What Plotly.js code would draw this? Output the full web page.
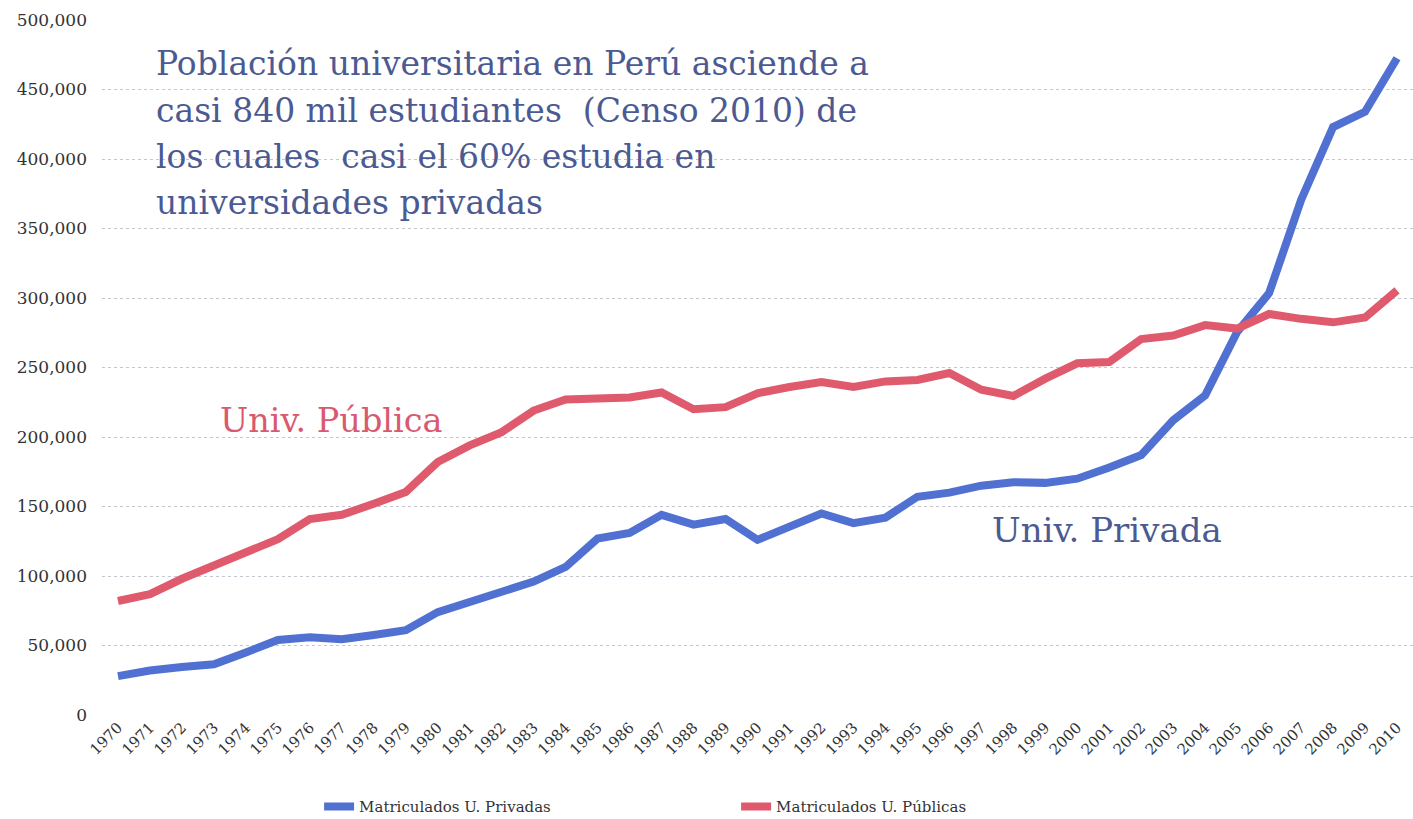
<!DOCTYPE html>
<html>
<head>
<meta charset="utf-8">
<script src="https://cdn.plot.ly/plotly-3.0.1.min.js"></script>
<style>html,body{margin:0;padding:0;background:#fff;}#chart{width:1413px;height:819px;}</style>
</head>
<body>
<div id="chart"></div>
<script>
const years = ['1970','1971','1972','1973','1974','1975','1976','1977','1978','1979','1980','1981','1982','1983','1984','1985','1986','1987','1988','1989','1990','1991','1992','1993','1994','1995','1996','1997','1998','1999','2000','2001','2002','2003','2004','2005','2006','2007','2008','2009','2010'];
const privadas = [28000,32000,34500,36500,45000,54000,56000,54500,57500,61000,74000,81000,88500,96000,106500,127000,131000,144000,137000,141000,126000,135000,145000,138000,142000,157000,160000,165000,167500,167000,170000,178000,187000,212000,230000,275500,303500,370500,423000,434000,472500];
const publicas = [82000,87000,98000,108000,117000,126500,141000,144000,152000,160500,182000,194000,203500,219000,227000,228000,228500,232000,220000,221500,231500,236000,239500,236000,240000,241000,246000,234000,229500,242000,253000,254000,270500,273000,280500,278000,288500,285000,282500,286000,305500];
const yTicks = [0,50000,100000,150000,200000,250000,300000,350000,400000,450000,500000];
const yTickText = ['0','50,000','100,000','150,000','200,000','250,000','300,000','350,000','400,000','450,000','500,000'];
const seriesNames = ['Matriculados U. Privadas','Matriculados U. Públicas'];
const titleLines = ['Población universitaria en Perú asciende a','casi 840 mil estudiantes  (Censo 2010) de','los cuales  casi el 60% estudia en','universidades privadas'];

const serif = 'DejaVu Serif, Liberation Serif, serif';
const traces = [
  {x: years, y: privadas, name: seriesNames[0], type: 'scatter', mode: 'lines',
   line: {color: '#5171D2', width: 8}},
  {x: years, y: publicas, name: seriesNames[1], type: 'scatter', mode: 'lines',
   line: {color: '#E05A6E', width: 8}}
];
const titleY = [0.938, 0.870, 0.803, 0.737];
const annotations = titleLines.map((t, i) => ({
  text: t, xref: 'paper', yref: 'paper', x: 0.040, y: titleY[i],
  xanchor: 'left', yanchor: 'middle', align: 'left', showarrow: false,
  font: {family: serif, size: 33, color: '#4B5A92'}
}));
annotations.push(
  {text: 'Univ. Pública', xref: 'paper', yref: 'paper', x: 0.0885, y: 0.424,
   xanchor: 'left', yanchor: 'middle', showarrow: false,
   font: {family: serif, size: 33.5, color: '#D9596E'}},
  {text: 'Univ. Privada', xref: 'paper', yref: 'paper', x: 0.677, y: 0.266,
   xanchor: 'left', yanchor: 'middle', showarrow: false,
   font: {family: serif, size: 34, color: '#4B5A92'}}
);
const layout = {
  width: 1413, height: 819,
  margin: {l: 102, r: 0, t: 20, b: 104, autoexpand: false},
  paper_bgcolor: '#ffffff', plot_bgcolor: '#ffffff',
  showlegend: true,
  legend: {orientation: 'h', x: 0.1656, xanchor: 'left', y: -0.132, yanchor: 'middle',
           entrywidth: 372, entrywidthmode: 'pixels',
           font: {family: serif, size: 15, color: '#333'}},
  xaxis: {type: 'category', range: [-0.5, 40.5], tickangle: -45, showgrid: false,
          automargin: false, zeroline: false, showline: false, ticks: '',
          tickfont: {family: serif, size: 15, color: '#333'}},
  yaxis: {range: [0, 500000], tickvals: yTicks, ticktext: yTickText, automargin: false,
          showgrid: true, gridcolor: '#c6c6d0', griddash: 'dot', gridwidth: 1,
          zeroline: false, showline: false, ticks: '', ticklabelstandoff: 14,
          tickfont: {family: serif, size: 17, color: '#333'}},
  annotations: annotations
};
Plotly.newPlot('chart', traces, layout, {displayModeBar: false, staticPlot: true});
</script>
</body>
</html>
